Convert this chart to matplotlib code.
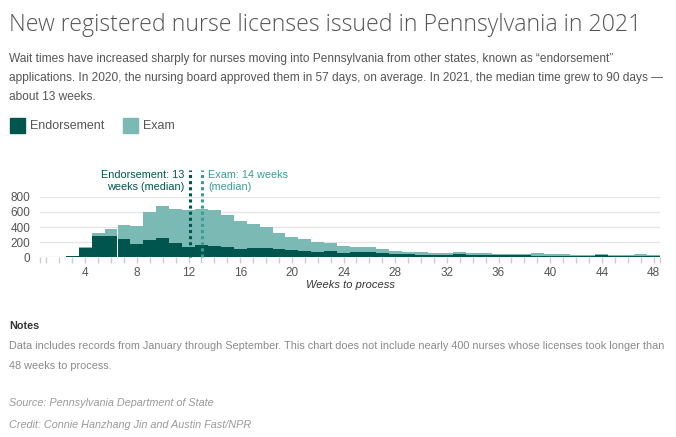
import matplotlib
matplotlib.use("Agg")
import matplotlib.pyplot as plt
import numpy as np

W, H = 676, 437

weeks = list(range(1, 49))
endorsement = [0, 0, 13, 124, 278, 278, 239, 172, 225, 252, 186, 133,
               164, 146, 133, 106, 119, 119, 106, 93, 80, 66, 80, 53,
               70, 72, 62, 49, 49, 35, 35, 35, 49, 35, 35, 35,
               35, 31, 18, 18, 18, 18, 18, 31, 18, 15, 18, 18]
total = [0, 0, 13, 133, 318, 371, 429, 415, 597, 676, 636, 623,
         636, 623, 557, 477, 438, 398, 318, 265, 239, 199, 186, 146,
         137, 137, 110, 84, 71, 71, 53, 53, 71, 57, 57, 49,
         44, 44, 57, 44, 44, 31, 31, 44, 31, 26, 44, 31]
exam = [t - e for t, e in zip(total, endorsement)]

y_ticks = [0, 200, 400, 600, 800]
x_labels = [4, 8, 12, 16, 20, 24, 28, 32, 36, 40, 44, 48]
median_endorsement = 12.13
median_exam = 13.06

DARK = "#00554f"
LIGHT = "#7bb9b4"
EXAM_LINE = "#3a9d95"
TEXT = "#555555"


def px(x, y):
    return x / W, 1 - y / H


fig = plt.figure(figsize=(W / 100, H / 100), dpi=100)
fig.patch.set_facecolor("white")

# header
fig.text(*px(9, 31), "New registered nurse licenses issued in Pennsylvania in 2021",
         fontsize=16.7, family="Open Sans", weight="light", color="#555555", va="baseline")
sub = ["Wait times have increased sharply for nurses moving into Pennsylvania from other states, known as \u201cendorsement\u201d",
       "applications. In 2020, the nursing board approved them in 57 days, on average. In 2021, the median time grew to 90 days \u2014",
       "about 13 weeks."]
for i, line in enumerate(sub):
    fig.text(*px(9, 62 + i * 19), line, fontsize=8.55, family="Liberation Sans",
             color=TEXT, va="baseline")

# legend
for x0, lab, col in [(10, "Endorsement", DARK), (123, "Exam", LIGHT)]:
    fig.patches.append(plt.Rectangle(px(x0, 133), 15 / W, 15 / H, color=col,
                                     transform=fig.transFigure, figure=fig))
    fig.text(*px(x0 + 20, 126), lab, fontsize=9.0, family="Liberation Sans",
             color=TEXT, va="center")

# chart
ax = fig.add_axes([40 / W, (H - 257.3) / H, 620 / W, 60.6 / H])
ax.bar(weeks, endorsement, width=1.0, color=DARK, linewidth=0, zorder=2)
ax.bar(weeks, exam, bottom=endorsement, width=1.0, color=LIGHT, linewidth=0, zorder=2)
ax.set_xlim(0.5, 48.5)
ax.set_ylim(0, 800)
for s in ax.spines.values():
    s.set_visible(False)
ax.set_yticks(y_ticks)
ax.set_yticklabels([str(v) for v in y_ticks], fontsize=8.5, family="Liberation Sans", color=TEXT)
ax.yaxis.grid(True, color="#e6e6e6", linewidth=1, zorder=0)
ax.tick_params(axis="y", length=0, pad=7)
ax.set_xticks(x_labels)
ax.set_xticklabels([str(v) for v in x_labels], fontsize=8.5, family="Liberation Sans", color=TEXT)
ax.set_xticks([0.5] + [w for w in weeks if w % 4] + [48.5], minor=True)
ax.tick_params(axis="x", which="both", length=4, color="#cccccc", width=1, pad=3)
ax.axhline(0, color="#dddddd", linewidth=0.8, zorder=1)
ax.set_axisbelow(True)
ax.set_xlabel("Weeks to process", fontsize=8, family="Liberation Sans", style="italic",
              color="#333333", labelpad=1)

top = 800 * (257.3 - 170) / 60.6
ax.plot([median_endorsement] * 2, [0, top], color=DARK, lw=2.2, ls=(0, (1, 1)),
        clip_on=False, zorder=4)
ax.plot([median_exam] * 2, [0, top], color=EXAM_LINE, lw=2.2, ls=(0, (1, 1)),
        clip_on=False, zorder=4)
ax.text(median_endorsement - 0.45, top, "Endorsement: 13\nweeks (median)", ha="right", va="top",
        fontsize=7.8, family="Liberation Sans", color=DARK, linespacing=1.3)
ax.text(median_exam + 0.45, top, "Exam: 14 weeks\n(median)", ha="left", va="top",
        fontsize=7.8, family="Liberation Sans", color=EXAM_LINE, linespacing=1.3)

# notes
fig.text(*px(9, 329), "Notes", fontsize=7.8, family="Liberation Sans", weight="bold",
         color="#333333", va="baseline")
notes = ["Data includes records from January through September. This chart does not include nearly 400 nurses whose licenses took longer than",
         "48 weeks to process."]
for i, line in enumerate(notes):
    fig.text(*px(9, 349 + i * 20), line, fontsize=7.8, family="Liberation Sans",
             color="#8a8a8a", va="baseline")
fig.text(*px(9, 406), "Source: Pennsylvania Department of State", fontsize=7.8,
         family="Liberation Sans", style="italic", color="#9a9a9a", va="baseline")
fig.text(*px(9, 428), "Credit: Connie Hanzhang Jin and Austin Fast/NPR", fontsize=7.8,
         family="Liberation Sans", style="italic", color="#9a9a9a", va="baseline")

fig.savefig("out.png", dpi=100)
